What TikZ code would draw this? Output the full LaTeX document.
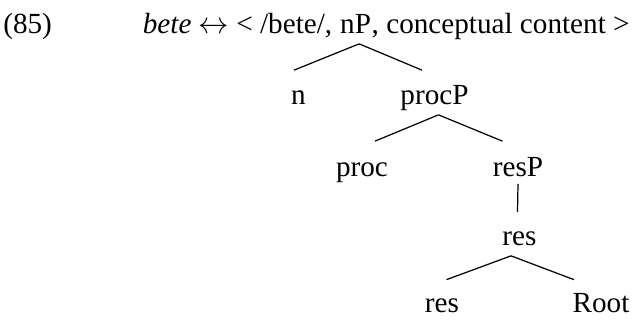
\documentclass[tikz,border=0pt]{standalone}
\usepackage{fontspec}
\setmainfont{Liberation Serif}
\usetikzlibrary{positioning}

\begin{document}
\begin{tikzpicture}[
  every node/.style={inner sep=0.06cm, text height=0.41cm, text depth=0.15cm,
                     font=\fontsize{16.6}{20}\selectfont},
  gloss/.style={inner xsep=0pt},
  leaf/.style={text depth=0pt, inner ysep=0.03cm},
  branch/.style={line width=0.7pt}
]
\useasboundingbox (0,0) rectangle (12.64,-6.4);
% example number and lexical entry
\node[gloss, anchor=base west] (num) at (0.06,-0.66) {(85)};
\node[gloss, anchor=base west] (pre) at (2.85,-0.66) {\textit{bete} $\leftrightarrow$ < /bete/,};
\node[gloss, right=0.146cm of pre] (np)   {nP};
\node[gloss, right=0pt of np]      (post) {, conceptual content >};
% the tree
\node[anchor=base] (n)     at (5.97,-2.08)  {n};
\node[anchor=base] (procp) at (8.69,-2.08)  {procP};
\node[anchor=base] (proc)  at (7.24,-3.52)  {proc};
\node[anchor=base] (resp)  at (10.36,-3.52) {resP};
\node[anchor=base] (res)   at (10.39,-4.90) {res};
\node[leaf, anchor=base] (resl)  at (8.84,-6.24)  {res};
\node[leaf, anchor=base] (root)  at (12.02,-6.24) {Root};
\draw[branch] ([xshift=0.07cm]np.south) -- ([xshift=-0.09cm, yshift=0.2cm]n.north);
\draw[branch] ([xshift=0.07cm]np.south) -- ([xshift=-0.25cm, yshift=0.2cm]procp.north);
\draw[branch] ([xshift=0.08cm]procp.south) -- ([xshift=0.26cm, yshift=0.22cm]proc.north);
\draw[branch] ([xshift=0.08cm]procp.south) -- ([xshift=-0.31cm, yshift=0.22cm]resp.north);
\draw[branch] ([yshift=0.06cm]resp.south) -- ([xshift=-0.04cm, yshift=0.18cm]res.north);
\draw[branch] ([xshift=-0.17cm]res.south) -- ([xshift=0.09cm, yshift=0.2cm]resl.north);
\draw[branch] ([xshift=-0.17cm]res.south) -- ([xshift=-0.54cm, yshift=0.2cm]root.north);
\end{tikzpicture}
\end{document}
